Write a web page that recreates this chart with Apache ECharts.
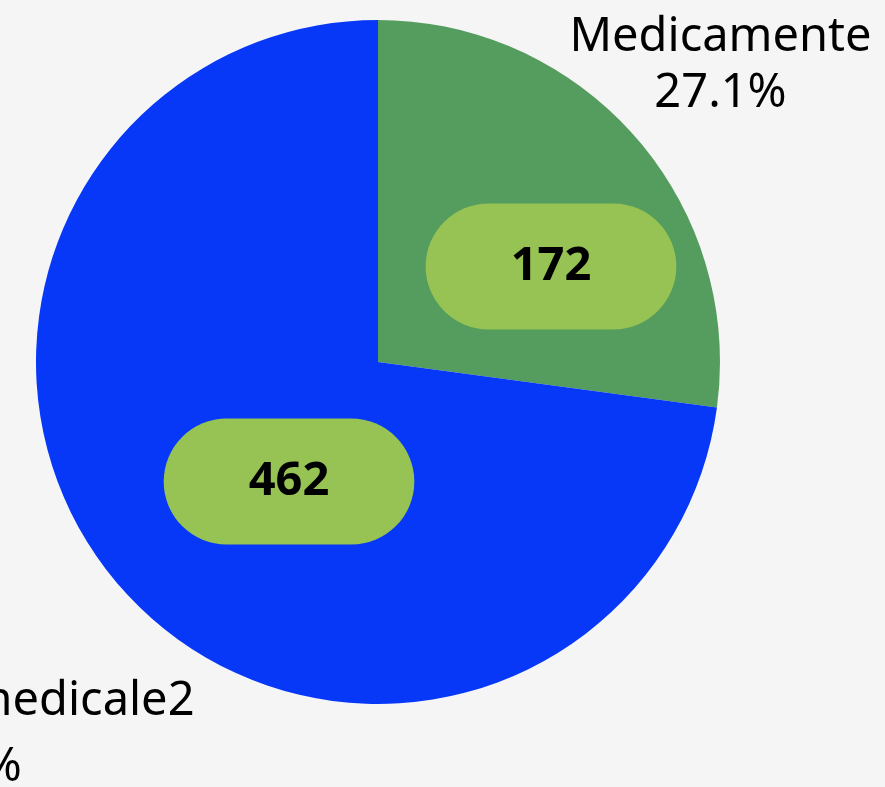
<!DOCTYPE html>
<html>
<head>
<meta charset="utf-8">
<script src="https://cdn.jsdelivr.net/npm/echarts@6/dist/echarts.min.js"></script>
<style>
  html, body { margin: 0; padding: 0; background: #f5f5f5; }
  #chart { width: 885px; height: 787px; }
</style>
</head>
<body>
<div id="chart"></div>
<script>
const categories = ['Medicamente', 'Dispozitive medicale2']
const values = [172, 462]
const sliceColors = ['#559d5e', '#0737f7']

const center = [378, 362]
const radius = 342
// distance of outer label centres from the pie centre
const outerLabelDist = [455, 561]
const outerLineHeight = [56, 66]
const innerOffset = [[42, 19], [42, 5]]

const total = values.reduce((a, b) => a + b, 0)

function midAngle(i) {
  let before = 0
  for (let k = 0; k < i; k++) before += values[k]
  const start = 90 - before / total * 360
  return (start - values[i] / total * 180) * Math.PI / 180
}

const chart = echarts.init(document.getElementById('chart'))

const option = {
  backgroundColor: '#f5f5f5',
  animation: false,
  series: [
    {
      type: 'pie',
      center: center,
      radius: radius,
      startAngle: 90,
      clockwise: true,
      avoidLabelOverlap: false,
      itemStyle: { borderWidth: 0 },
      labelLine: { show: false },
      label: {
        show: true,
        position: 'inside',
        formatter: '{c}',
        fontFamily: 'Noto Sans',
        fontSize: 47,
        fontWeight: 'bold',
        color: '#000',
        lineHeight: 56,
        backgroundColor: '#96c353',
        borderRadius: 63,
        padding: [35, 85]
      },
      data: categories.map((name, i) => ({
        name: name,
        value: values[i],
        itemStyle: { color: sliceColors[i] },
        label: { offset: innerOffset[i] }
      }))
    },
    {
      type: 'pie',
      center: center,
      radius: radius,
      startAngle: 90,
      clockwise: true,
      silent: true,
      percentPrecision: 1,
      avoidLabelOverlap: false,
      itemStyle: { color: 'rgba(0,0,0,0)', borderWidth: 0 },
      labelLine: { show: false },
      label: {
        show: true,
        position: 'inside',
        formatter: '{b}\n{d}%',
        fontFamily: 'Noto Sans',
        fontSize: 47,
        color: '#000',
        align: 'center',
        overflow: 'none'
      },
      labelLayout: function (params) {
        const i = params.dataIndex
        const a = midAngle(i)
        return {
          x: center[0] + Math.cos(a) * outerLabelDist[i],
          y: center[1] - Math.sin(a) * outerLabelDist[i] + 3,
          align: 'center',
          verticalAlign: 'middle'
        }
      },
      data: categories.map((name, i) => ({
        name: name,
        value: values[i],
        label: { lineHeight: outerLineHeight[i] }
      }))
    }
  ]
}

chart.setOption(option)
</script>
</body>
</html>
